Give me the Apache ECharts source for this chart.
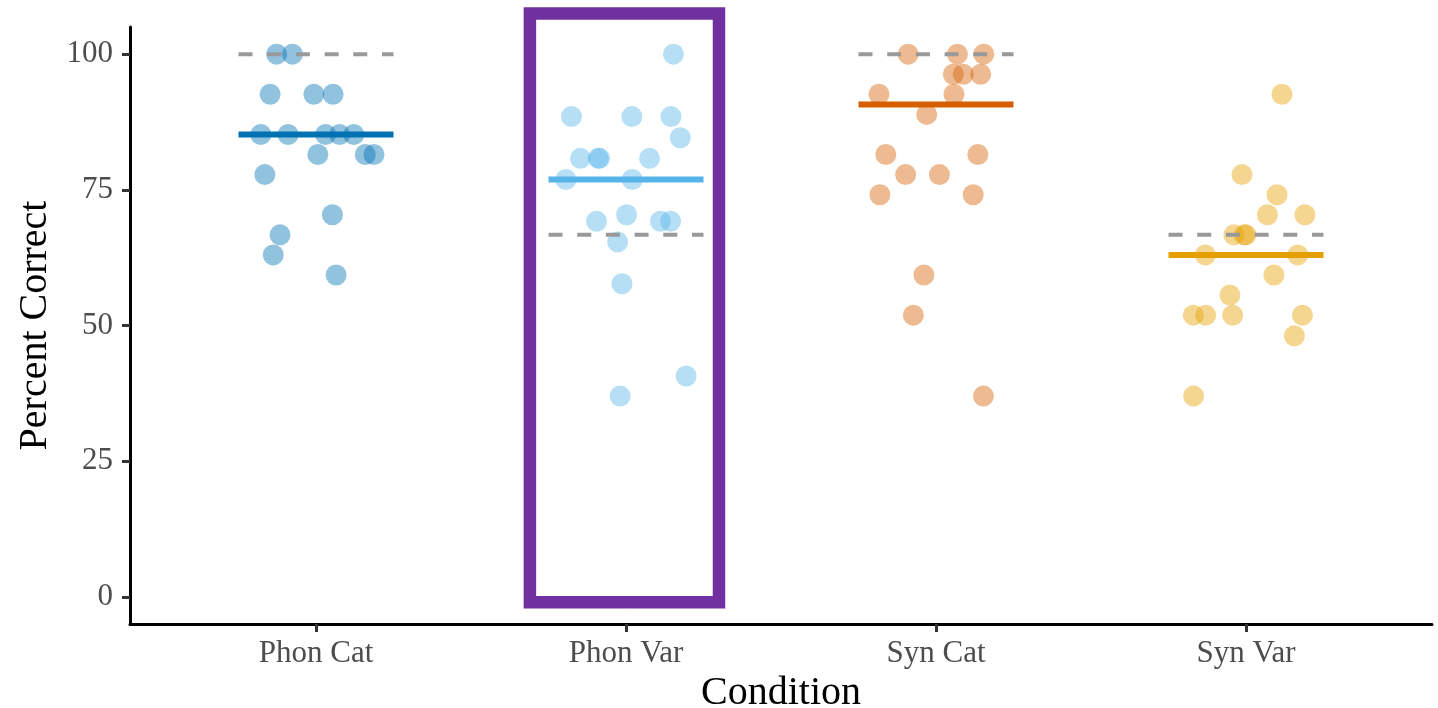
<!DOCTYPE html>
<html>
<head>
    <meta charset="utf-8">
    <script src="https://cdn.jsdelivr.net/npm/echarts@6/dist/echarts.min.js"></script>
</head>

<body style="margin:0;background:#fff;">
<div id="main" style="width: 1438px;height:708px;"></div>

<script type="text/javascript">
    // conditions on the x axis
    var categories = ['Phon Cat', 'Phon Var', 'Syn Cat', 'Syn Var'];
    var colors = ['#0072B2', '#56B4E9', '#D55E00', '#E69F00'];

    // participant scores: [jitter offset, percent correct]
    var phonCat = [[-0.127, 100], [-0.076, 100], [-0.148, 92.6], [-0.007, 92.6], [0.055, 92.6],
        [-0.178, 85.2], [-0.090, 85.2], [0.031, 85.2], [0.076, 85.2], [0.122, 85.2],
        [0.006, 81.5], [0.159, 81.5], [0.187, 81.5], [-0.165, 77.8], [0.053, 70.4],
        [-0.116, 66.7], [-0.138, 63.0], [0.065, 59.3]];
    var phonVar = [[0.153, 100], [-0.176, 88.5], [0.019, 88.5], [0.145, 88.5], [0.175, 84.6],
        [-0.147, 80.8], [-0.090, 80.8], [-0.085, 80.8], [0.076, 80.8], [-0.194, 76.9],
        [0.020, 76.9], [-0.095, 69.2], [0.002, 70.4], [0.111, 69.2], [0.144, 69.2],
        [-0.027, 65.4], [-0.013, 57.7], [0.194, 40.7], [-0.019, 37.0]];
    var synCat = [[-0.090, 100], [0.069, 100], [0.154, 100], [0.056, 96.3], [0.088, 96.3],
        [0.144, 96.3], [-0.184, 92.6], [0.058, 92.6], [-0.030, 88.9], [-0.162, 81.5],
        [0.135, 81.5], [-0.098, 77.8], [0.011, 77.8], [-0.181, 74.1], [0.120, 74.1],
        [-0.039, 59.3], [-0.073, 51.9], [0.153, 37.0]];
    var synVar = [[0.116, 92.6], [-0.013, 77.8], [0.100, 74.1], [0.069, 70.4], [0.190, 70.4],
        [-0.039, 66.7], [-0.006, 66.7], [0.000, 66.7], [-0.131, 63.0], [0.167, 63.0],
        [0.090, 59.3], [-0.052, 55.6], [-0.170, 51.9], [-0.130, 51.9], [-0.043, 51.9],
        [0.182, 51.9], [0.156, 48.1], [-0.169, 37.0]];
    var scores = [phonCat, phonVar, synCat, synVar];

    // solid line per condition and dashed reference line
    var medians = [85.2, 76.9, 90.7, 63.0];
    var references = [100, 66.7, 100, 66.7];
    var segHalf = 0.25;

    var yTicks = [0, 25, 50, 75, 100];

    // purple highlight round Phon Var
    var boxX = [1.69, 2.30];
    var boxY = [-1.0, 107.5];

    var font = 'Liberation Serif';
    var myChart = echarts.init(document.getElementById('main'));

    var series = [];
    scores.forEach(function (pts, i) {
        series.push({
            type: 'scatter',
            symbolSize: 21,
            itemStyle: {color: colors[i], opacity: 0.43},
            data: pts.map(function (p) { return [i + 1 + p[0], p[1]]; }),
            z: 2
        });
    });
    medians.forEach(function (m, i) {
        series.push({
            type: 'line',
            symbol: 'none',
            lineStyle: {color: colors[i], width: 6},
            data: [[i + 1 - segHalf, m], [i + 1 + segHalf, m]],
            z: 3
        });
    });
    references.forEach(function (r, i) {
        series.push({
            type: 'line',
            symbol: 'none',
            lineStyle: {color: '#999999', width: 4, type: [14, 14.7]},
            data: [[i + 1 - segHalf, r], [i + 1 + segHalf, r]],
            z: 4
        });
    });
    series.push({
        type: 'line',
        symbol: 'none',
        clip: false,
        lineStyle: {color: '#7030A0', width: 12.5, join: 'miter', cap: 'butt'},
        data: [[(boxX[0] + boxX[1]) / 2, boxY[0]], [boxX[1], boxY[0]], [boxX[1], boxY[1]],
            [boxX[0], boxY[1]], [boxX[0], boxY[0]], [(boxX[0] + boxX[1]) / 2, boxY[0]]],
        z: 5
    });

    myChart.setOption({
        animation: false,
        grid: {left: 130, right: 6, top: 27, bottom: 84, containLabel: false, outerBoundsMode: 'none'},
        xAxis: {
            type: 'value',
            min: 0.4,
            max: 4.6,
            name: 'Condition',
            nameLocation: 'middle',
            nameGap: 46,
            nameTextStyle: {fontFamily: font, fontSize: 40, color: '#000'},
            splitLine: {show: false},
            axisLine: {onZero: false, lineStyle: {color: '#000', width: 3}},
            axisTick: {customValues: [1, 2, 3, 4], length: 8, lineStyle: {color: '#333', width: 3}},
            axisLabel: {
                customValues: [1, 2, 3, 4],
                margin: 14,
                fontFamily: font,
                fontSize: 31,
                color: '#4D4D4D',
                formatter: function (v) { return categories[Math.round(v) - 1]; }
            }
        },
        yAxis: {
            type: 'value',
            min: -5,
            max: 105,
            name: 'Percent Correct',
            nameLocation: 'middle',
            nameGap: 67,
            nameTextStyle: {fontFamily: font, fontSize: 40, color: '#000'},
            splitLine: {show: false},
            axisLine: {show: true, onZero: false, lineStyle: {color: '#000', width: 3}},
            axisTick: {show: true, customValues: yTicks, length: 8, lineStyle: {color: '#333', width: 3}},
            axisLabel: {
                customValues: yTicks,
                margin: 17,
                fontFamily: font,
                fontSize: 31,
                color: '#4D4D4D'
            }
        },
        series: series
    });
</script>

</body>
</html>
